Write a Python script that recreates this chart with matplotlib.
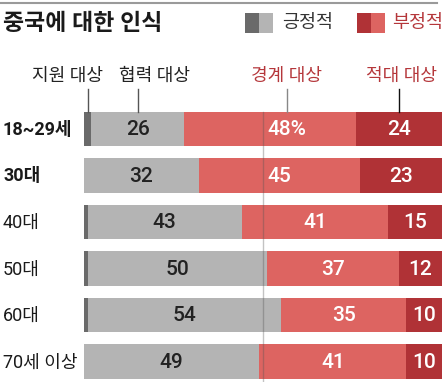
import numpy as np
import matplotlib.pyplot as plt
from matplotlib.patches import Rectangle

plt.rcParams['font.family'] = ['Roboto', 'Noto Sans CJK KR', 'DejaVu Sans']

# data
ages = ['18~29세', '30대', '40대', '50대', '60대', '70세 이상']
bold_rows = ['18~29세', '30대']
support = [2, 0, 1, 1, 1, 0]      # 지원 대상
cooperate = [26, 32, 43, 50, 54, 49]  # 협력 대상
caution = [48, 45, 41, 37, 35, 41]    # 경계 대상
hostile = [24, 23, 15, 12, 10, 10]    # 적대 대상
headers = ['지원 대상', '협력 대상', '경계 대상', '적대 대상']

colors = ['#6a6a6a', '#b4b4b4', '#dd6461', '#b03236']
red_text = '#b5373b'

W, H = 445, 382
fig = plt.figure(figsize=(W / 100, H / 100), dpi=100)

def fy(y):
    return 1 - y / H

# axes: x 0..100 -> px 84..442, y px 100..382
ax = fig.add_axes([84 / W, fy(382), (442 - 84) / W, (382 - 100) / H])
step = 46.5
ax.set_xlim(0, 100)
ax.set_ylim((382 - 129) / step, (100 - 129) / step)
ax.axis('off')

series = [support, cooperate, caution, hostile]
y = np.arange(len(ages))
left = np.zeros(len(ages))
bh = 0.75
for vals, c in zip(series, colors):
    ax.barh(y, vals, left=left, height=bh, color=c, linewidth=0, zorder=1)
    left += np.array(vals)

# midline at 50%
ax.plot([50, 50], [-bh / 2, ax.get_ylim()[0]], color='#555555', alpha=0.35,
        lw=1, zorder=2, clip_on=False)

# value labels
starts = np.cumsum([np.zeros(len(ages))] + [np.array(s) for s in series[:-1]], axis=0)
for k in (1, 2, 3):
    for i in range(len(ages)):
        v = series[k][i]
        cx = starts[k][i] + v / 2
        txt = str(v)
        if i == 0 and k == 2:
            txt = f'{v}%'
            cx = 56.7
        ax.text(cx, i + 0.02, txt, ha='center', va='center', fontsize=15,
                fontweight='medium', color='#222222' if k == 1 else 'white',
                zorder=3)

# row labels
for i, a in enumerate(ages):
    ax.text(-81 / 3.58, i + 0.02, a, ha='left', va='center', fontsize=13,
            fontweight='bold' if a in bold_rows else 'normal', color='#1a1a1a',
            clip_on=False)

# column headers with leader lines
head_x = [-4.7, 19.6, 56.7, 88.6]
lead_x = [support[0] / 2, support[0] + cooperate[0] / 2, 56.7,
          100 - hostile[0] / 2]
head_col = ['#222222', '#222222', red_text, red_text]
lead_col = ['#555555', '#555555', '#888888', '#111111']
for hx, lx, t, hc, lc in zip(head_x, lead_x, headers, head_col, lead_col):
    ax.text(hx, (76 - 129) / step, t, ha='center', va='center', fontsize=13,
            color=hc, clip_on=False)
    ax.plot([lx, lx], [(89 - 129) / step, -bh / 2], color=lc, lw=1,
            clip_on=False, zorder=2)

# title and top rule
fig.add_artist(plt.Line2D([0, 437 / W], [fy(3), fy(3)], color='#9a9a9a', lw=1.5))
fig.text(3 / W, fy(24), '중국에 대한 인식', ha='left', va='center', fontsize=16.5,
         fontweight='heavy', color='#1a1a1a')

# legend
def swatch(x0, c1, c2):
    fig.add_artist(Rectangle((x0 / W, fy(33)), 14 / W, 20 / H, color=c1, lw=0))
    fig.add_artist(Rectangle(((x0 + 14) / W, fy(33)), 14 / W, 20 / H, color=c2, lw=0))

swatch(245, colors[0], colors[1])
fig.text(282 / W, fy(23), '긍정적', ha='left', va='center', fontsize=13.3, color='#333333')
swatch(357, colors[3], colors[2])
fig.text(392 / W, fy(23), '부정적', ha='left', va='center', fontsize=13.3, color=red_text)

fig.savefig('out.png', dpi=100)
